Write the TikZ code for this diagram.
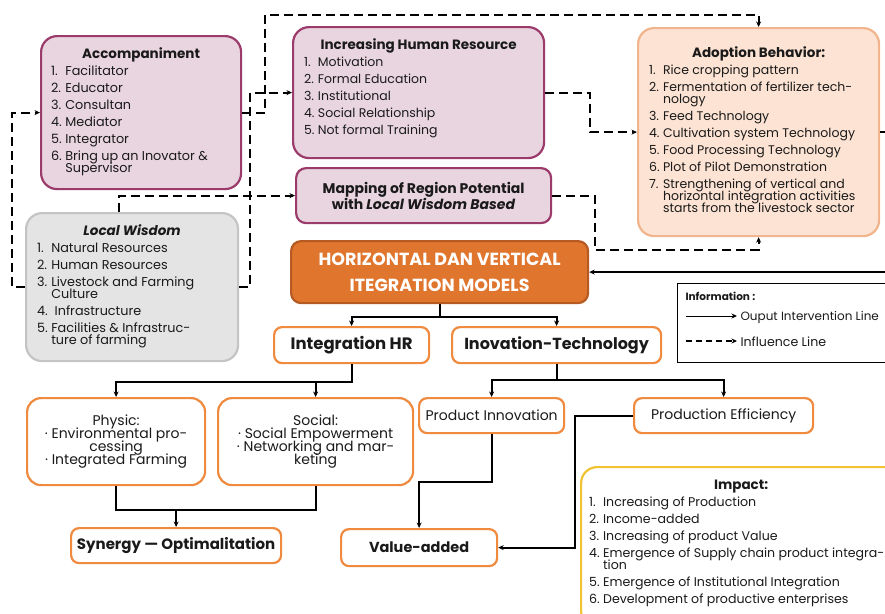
\documentclass[tikz,border=0pt]{standalone}
\usepackage{fontspec}
\setmainfont{Poppins}
\usetikzlibrary{arrows.meta,positioning}
\definecolor{plum}{HTML}{9B3B6B}
\definecolor{plumfill}{HTML}{E9D5DF}
\definecolor{peachfill}{HTML}{FCE3D3}
\definecolor{peachline}{HTML}{F2B48C}
\definecolor{greyfill}{HTML}{E4E4E4}
\definecolor{greyline}{HTML}{C4C4C4}
\definecolor{rust}{HTML}{E0752D}
\definecolor{rustline}{HTML}{B45A22}
\definecolor{orangeline}{HTML}{EF8A3E}
\definecolor{gold}{HTML}{F1C232}
\definecolor{ink}{HTML}{1A1A1A}

\newcommand\listfont[1]{\fontsize{#1}{17}\selectfont}
\newcommand\tightfont{\fontsize{14}{13.2}\selectfont\lineskiplimit=-10pt}
\newcommand\heading[1]{{\fontsize{13.5}{17}\selectfont\bfseries #1}}
% numbered list, flush left inside a box of the given width
\newcommand\entries[2]{\makebox[#1][l]{\begin{tabular}[t]{@{}l@{\ }l@{}}#2\end{tabular}}}

\tikzset{
  box/.style={rounded corners=16pt,line width=2.2pt,anchor=north west,
    inner sep=2pt,align=center,text=ink,font=\listfont{12.5}},
  pinkbox/.style={box,draw=plum,fill=plumfill},
  peachbox/.style={box,draw=peachline,fill=peachfill},
  greybox/.style={box,draw=greyline,fill=greyfill},
  mainbox/.style={box,rounded corners=10pt,draw=rustline,fill=rust,text=white,
    font=\fontsize{17.5}{26}\selectfont\bfseries},
  orbox/.style={box,rounded corners=8pt,draw=orangeline,fill=white},
  goldbox/.style={box,draw=gold,fill=white},
  link/.style={line width=2pt,->},
  infl/.style={line width=2.2pt,dash pattern=on 9pt off 5pt,->},
}

\begin{document}
\begin{tikzpicture}[x=1pt,y=-1pt,>={Stealth[length=5.5pt,width=5pt]}]
\useasboundingbox (0,0) rectangle (885,613);

% upper blocks
\node[pinkbox,minimum width=200pt,minimum height=153pt,font=\listfont{12.8}] (acc) at (40,35)
  {\heading{Accompaniment}\\
   \entries{180pt}{
   1. & Facilitator\\
   2. & Educator\\
   3. & Consultan\\
   4. & Mediator\\
   5. & Integrator\\
   6. & Bring up an Inovator \&\\[-5pt]
      & Supervisor}};
\node[pinkbox,minimum width=251pt,minimum height=131pt] (ihr) at (292,26)
  {\heading{Increasing Human Resource}\\
   \entries{229pt}{
   1. & Motivation\\
   2. & Formal Education\\
   3. & Institutional\\
   4. & Social Relationship\\
   5. & Not formal Training}\\[6pt]};
\node[pinkbox,rounded corners=10pt,minimum width=255pt,minimum height=55pt,
  font=\fontsize{14}{16}\selectfont\bfseries] (map) at (295,167)
  {Mapping of Region Potential\\ with \textit{Local Wisdom Based}};
\node[peachbox,minimum width=241pt,minimum height=208pt] (adopt) at (637,27)
  {\heading{Adoption Behavior:}\\
   \entries{219pt}{
   1. & Rice cropping pattern\\
   2. & Fermentation of fertilizer tech-\\[-5pt]
      & nology\\
   3. & Feed Technology\\
   4. & Cultivation system Technology\\
   5. & Food Processing Technology\\
   6. & Plot of Pilot Demonstration\\
   7. & Strengthening of vertical and\\[-5pt]
      & horizontal integration activities\\[-5pt]
      & starts from the livestock sector}};
\node[greybox,minimum width=212pt,minimum height=148pt,font=\listfont{12.8}] (wis) at (25,212)
  {\heading{\itshape Local Wisdom}\\
   \entries{190pt}{
   1. & Natural Resources\\
   2. & Human Resources\\
   3. & Livestock and Farming\\[-5pt]
      & Culture\\
   4. & \ Infrastructure\\
   5. & Facilities \& Infrastruc-\\[-5pt]
      & ture of farming}};

% model and its branches
\node[mainbox,minimum width=297pt,minimum height=62pt] (hvm) at (290,240)
  {HORIZONTAL DAN VERTICAL\\ ITEGRATION MODELS};
\node[orbox,minimum width=155pt,minimum height=36pt,font=\fontsize{16.5}{18}\selectfont\bfseries]
  (intHR) at (273,326) {Integration HR};
\node[orbox,minimum width=209pt,minimum height=36pt,font=\fontsize{16}{18}\selectfont\bfseries]
  (inoTech) at (451,326) {Inovation-Technology};
\node[orbox,rounded corners=14pt,minimum width=178pt,minimum height=87pt,
  font=\tightfont] (physic) at (26,397)
  {Physic:\\ \textperiodcentered\ Environmental pro-\\ cessing\\
   \textperiodcentered\ Integrated Farming};
\node[orbox,rounded corners=14pt,minimum width=195pt,minimum height=87pt,
  font=\tightfont] (social) at (217,397)
  {Social:\\ \textperiodcentered\ Social Empowerment\\
   \textperiodcentered\ Networking and mar-\\ keting};
\node[orbox,minimum width=145pt,minimum height=35pt,font=\listfont{14}] (prodInno) at (418,397)
  {Product Innovation};
\node[orbox,minimum width=179pt,minimum height=35pt,font=\listfont{14}] (prodEff) at (633,397)
  {Production Efficiency};
\node[orbox,minimum width=210pt,minimum height=35pt,font=\fontsize{15}{16}\selectfont\bfseries]
  (synergy) at (70,527) {Synergy --- Optimalitation};
\node[orbox,minimum width=156pt,minimum height=37pt,font=\fontsize{14.5}{16}\selectfont\bfseries]
  (value) at (340,528) {Value-added};
\node[goldbox,minimum width=320pt,minimum height=160pt,font=\listfont{12.6}] (impact) at (580,466)
  {\heading{Impact:}\\
   \entries{304pt}{
   1. & Increasing of Production\\
   2. & Income-added\\
   3. & Increasing of product Value\\
   4. & Emergence of Supply chain product integra-\\[-5pt]
      & tion\\
   5. & Emergence of Institutional Integration\\
   6. & Development of productive enterprises}\\[4pt]};

% legend
\node[draw,line width=1.4pt,anchor=north west,minimum width=220pt,minimum height=79pt]
  (info) at (677,283) {};
\node[anchor=west,font=\fontsize{10.5}{13}\selectfont\bfseries,text=ink]
  (infoTitle) at (682,296) {Information :};
\node[anchor=west,font=\listfont{12},text=ink] (infoOut) at (737,317) {Ouput Intervention Line};
\node[anchor=west,font=\listfont{12.6},text=ink] (infoInf) at (737,342) {Influence Line};
\coordinate (outStart) at (686,316);
\coordinate (infStart) at (686,341);
\draw[link,line width=1pt] (outStart) -- (outStart -| infoOut.west);
\draw[infl,line width=1.2pt,dash pattern=on 6pt off 4pt] (infStart) -- (infStart -| infoInf.west);

% output lines
\draw[link] (hvm.south) -- ++(0,13) -| (intHR.north);
\draw[link] (hvm.south) -- ++(0,13) -| (inoTech.north);
\draw[link] (intHR.south) -- ++(0,18) -| (physic.north);
\draw[link] (intHR.south) -- ++(0,18) -| (social.north);
\draw[link] (inoTech.south) -- ++(0,16) -| (prodInno.north);
\draw[link] (inoTech.south) -- ++(0,16) -| (prodEff.north);
\path (physic.south) ++(0,24) coordinate (physJoin);
\draw[line width=2pt] (physic.south) -- (physJoin) -| (social.south);
\draw[link] (physJoin -| synergy.north) -- (synergy.north);
\draw[link] (prodInno.south) -- ++(0,48) -| (value.north);
\draw[link] (prodEff.west) -- ++(-58,0) |- (value.east);
\draw[link] (adopt.east) -- ++(20,0) |- (hvm.east);

% influence lines
\coordinate (bus) at (250,0);
\draw[infl] (acc.east) -| ++(23,-98) -| (adopt.north);
\draw[infl] (wis.east) -| (bus |- ihr.west) -- (ihr.west);
\draw[infl] ([xshift=-13pt]wis.north) |- (map.west);
\draw[infl] (wis.west) -- ++(-13,0) |- (acc.west);
\draw[infl] (ihr.east) -- ++(45,0) |- (adopt.west);
\draw[infl] (map.east) -| ++(43,54) -| (adopt.south);
\end{tikzpicture}
\end{document}
